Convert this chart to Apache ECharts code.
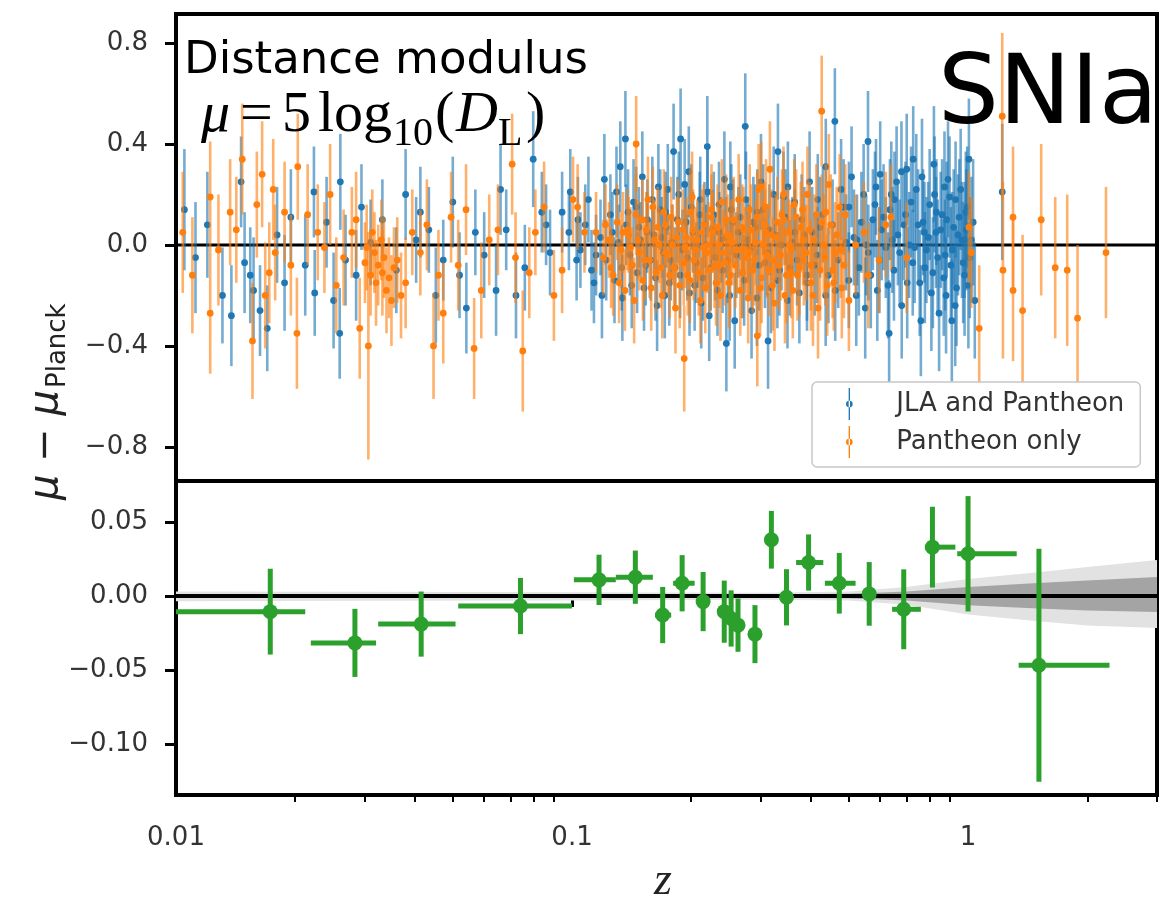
<!DOCTYPE html>
<html><head><meta charset="utf-8">
<script src="https://cdn.jsdelivr.net/npm/echarts@6/dist/echarts.min.js"></script>
<style>html,body{margin:0;padding:0;background:#fff}#c{width:1161px;height:902px}</style>
</head><body><div id="c"></div>
<script>
// ---------- axes ----------
const X_MIN = 0.01, X_MAX = 3.0;
const Y_TOP_MIN = -0.935, Y_TOP_MAX = 0.915;
const Y_BOT_MIN = -0.1345, Y_BOT_MAX = 0.0777;
const xMajorTicks = [0.01, 0.1, 1];
const xMinorTicks = [0.02,0.03,0.04,0.05,0.06,0.07,0.08,0.09,0.2,0.3,0.4,0.5,0.6,0.7,0.8,0.9,2,3];
const yTopTicks = [-0.8, -0.4, 0, 0.4, 0.8];
const yBotTicks = [-0.10, -0.05, 0, 0.05];

// ---------- top panel: [z, mu - muPlanck, error] ----------
const jlaPantheon = [
[0.0105,0.14,0.24],[0.0131,-0.20,0.19],[0.0146,0.25,0.18],[0.0149,-0.07,0.20],[0.0154,-0.12,0.19],[0.0157,-0.18,0.21],[0.0163,-0.26,0.18],[0.0170,-0.33,0.17],[0.0195,0.11,0.19],[0.0212,-0.08,0.20],[0.0223,0.21,0.18],[0.0224,-0.19,0.17],[0.0259,-0.35,0.18],[0.0260,0.25,0.19],[0.0268,-0.06,0.18],[0.0294,0.15,0.17],[0.0332,0.10,0.16],[0.0404,0.02,0.17],[0.0414,0.13,0.18],[0.0453,-0.20,0.19],[0.0473,-0.06,0.16],[0.0541,-0.25,0.18],[0.0570,0.05,0.17],[0.0643,-0.18,0.18],[0.0682,0.06,0.16],[0.0722,-0.20,0.17],[0.0798,0.34,0.19],[0.0839,0.13,0.16],[0.0880,-0.03,0.17],[0.0944,0.13,0.16],[0.0982,0.05,0.15],[0.0990,0.21,0.17],[0.1027,-0.06,0.16],[0.1136,-0.15,0.16],
[0.0112,-0.05,0.22],[0.0120,0.08,0.21],[0.0138,-0.28,0.20],[0.0180,0.04,0.19],[0.0188,-0.15,0.19],[0.0240,0.09,0.18],[0.0250,-0.22,0.19],[0.0285,-0.12,0.18],[0.0310,0.01,0.17],[0.0360,-0.10,0.17],[0.0380,0.20,0.18],[0.0435,0.06,0.17],[0.0500,0.17,0.18],[0.0520,-0.12,0.17],[0.0600,-0.04,0.17],[0.0660,0.22,0.18],[0.0760,-0.09,0.17],[0.0860,0.08,0.16],
[0.1207,0.26,0.18],[0.1324,0.31,0.18],[0.1364,0.42,0.19],[0.1452,0.15,0.16],[0.1548,0.05,0.16],[0.1652,0.23,0.17],[0.1722,0.13,0.16],[0.1805,0.37,0.19],[0.1880,0.42,0.20],[0.1972,0.29,0.18],[0.2108,0.18,0.17],[0.2196,0.39,0.20],[0.2353,0.05,0.16],[0.2453,-0.39,0.19],[0.2510,0.23,0.18],[0.2738,0.47,0.21],[0.2937,0.13,0.17],[0.3126,-0.38,0.19],[0.3311,0.37,0.19],[0.3508,0.23,0.18],[0.3653,0.05,0.17],[0.3919,-0.12,0.18],[0.4174,0.18,0.18],[0.4373,0.31,0.19],[0.4610,0.49,0.21],
[0.105,-0.02,0.15],[0.108,0.08,0.16],[0.112,-0.10,0.16],[0.118,0.03,0.15],[0.122,-0.06,0.16],[0.125,0.12,0.16],[0.128,-0.14,0.17],[0.131,0.01,0.15],[0.134,-0.21,0.17],[0.137,0.08,0.16],[0.140,-0.04,0.16],[0.143,0.17,0.17],[0.146,-0.11,0.16],[0.149,0.02,0.15],[0.152,-0.17,0.17],[0.155,0.10,0.16],[0.158,-0.06,0.16],[0.161,0.04,0.15],[0.164,-0.24,0.18],[0.167,0.14,0.16],[0.170,-0.03,0.16],[0.173,0.07,0.16],[0.176,-0.15,0.17],[0.179,0.01,0.15],[0.182,-0.09,0.16],[0.186,0.20,0.17],[0.190,-0.02,0.16],[0.194,0.09,0.16],[0.198,-0.19,0.17],[0.202,0.05,0.16],[0.206,-0.07,0.16],[0.210,0.12,0.17],[0.214,-0.13,0.17],[0.218,0.00,0.16],[0.222,-0.28,0.18],[0.226,0.06,0.16],[0.230,-0.05,0.17],[0.235,0.16,0.17],[0.240,-0.10,0.17],[0.245,0.03,0.16],[0.250,-0.20,0.18],[0.255,0.09,0.17],[0.260,-0.04,0.17],[0.266,0.11,0.17],[0.272,-0.14,0.18],[0.278,0.02,0.17],[0.284,-0.26,0.19],[0.290,0.07,0.17],[0.297,-0.08,0.18],[0.304,0.14,0.18],[0.311,-0.03,0.17],[0.318,-0.17,0.18],[0.326,0.04,0.17],[0.334,-0.10,0.18],[0.342,0.19,0.18],[0.350,-0.22,0.19],[0.360,0.01,0.18],[0.370,-0.06,0.18],[0.380,0.10,0.18],[0.392,-0.15,0.19],[0.404,0.05,0.18],[0.416,-0.04,0.19],[0.430,0.12,0.19],[0.444,-0.12,0.19],
[0.1035,0.10,0.17],[0.1100,0.18,0.17],[0.1150,-0.04,0.16],[0.1190,-0.20,0.17],[0.1265,0.05,0.16],[0.1295,0.21,0.18],[0.1335,-0.09,0.17],[0.1385,0.13,0.17],[0.1415,-0.16,0.17],[0.1475,0.07,0.16],[0.1505,0.27,0.18],[0.1535,-0.08,0.16],[0.1595,0.18,0.17],[0.1625,-0.13,0.17],[0.1685,0.03,0.16],[0.1715,-0.20,0.17],[0.1745,0.22,0.18],[0.1775,-0.06,0.16],[0.1845,0.10,0.17],[0.1875,-0.12,0.17],[0.1925,0.24,0.18],[0.1955,-0.05,0.17],[0.2000,0.15,0.17],[0.2040,-0.16,0.18],[0.2080,0.00,0.17],[0.2120,-0.23,0.18],[0.2160,0.08,0.17],[0.2200,0.21,0.18],[0.2240,-0.09,0.17],[0.2280,0.12,0.17],[0.2330,-0.18,0.18],[0.2380,0.02,0.17],[0.2425,0.26,0.19],[0.2475,-0.06,0.17],[0.2525,0.14,0.18],[0.2575,-0.30,0.19],[0.2630,0.05,0.18],[0.2690,-0.11,0.18],[0.2750,0.18,0.19],[0.2810,-0.02,0.18],[0.2870,0.09,0.18],[0.2930,-0.21,0.19],[0.3000,0.25,0.19],[0.3070,-0.07,0.18],[0.3150,0.06,0.18],[0.3230,0.20,0.19],[0.3300,-0.14,0.19],[0.3380,0.00,0.18],[0.3460,0.11,0.19],[0.3550,-0.09,0.19],[0.3650,0.17,0.19],[0.3750,-0.19,0.20],[0.3860,0.04,0.19],[0.3980,0.25,0.20],[0.4100,-0.08,0.20],[0.4230,0.07,0.20],[0.4370,-0.20,0.20],
[0.455,0.08,0.18],[0.470,-0.06,0.19],[0.485,0.15,0.19],[0.500,-0.14,0.19],[0.5003,0.15,0.18],[0.515,0.03,0.19],[0.5242,0.02,0.18],[0.530,-0.09,0.19],[0.545,0.20,0.20],[0.550,-0.25,0.20],[0.5590,0.41,0.20],[0.560,-0.03,0.19],[0.575,0.10,0.20],[0.5856,0.23,0.19],[0.590,-0.18,0.20],[0.600,0.28,0.21],[0.605,0.06,0.20],[0.620,-0.01,0.20],[0.6320,-0.35,0.21],[0.635,0.14,0.20],[0.640,0.20,0.21],[0.650,-0.10,0.20],[0.6520,0.18,0.19],[0.665,0.04,0.20],[0.6790,0.29,0.20],[0.680,-0.24,0.21],[0.695,0.12,0.21],[0.700,0.30,0.22],[0.710,0.00,0.21],[0.725,-0.07,0.21],[0.7270,0.34,0.21],[0.740,0.22,0.22],[0.755,-0.15,0.21],[0.760,-0.30,0.22],[0.770,0.09,0.21],[0.7760,0.05,0.20],[0.785,-0.02,0.21],[0.800,0.16,0.22],[0.815,-0.11,0.22],[0.820,0.32,0.23],[0.830,0.05,0.22],[0.8320,0.13,0.21],[0.845,-0.27,0.23],[0.860,0.12,0.22],[0.8720,0.23,0.22],[0.875,-0.04,0.22],[0.880,-0.20,0.23],[0.890,0.26,0.23],[0.905,-0.08,0.23],[0.910,-0.30,0.24],[0.920,0.07,0.23],[0.9300,0.18,0.23],[0.935,-0.17,0.23],[0.950,0.11,0.23],[0.965,0.02,0.23],[0.9800,0.02,0.23],[0.980,-0.12,0.24],[0.990,0.06,0.24],[0.995,0.15,0.24],[1.0050,0.34,0.24],[1.010,-0.05,0.24],[1.030,0.09,0.25],[1.0400,-0.22,0.23],[1.2200,0.21,0.27],
[0.462,-0.18,0.20],[0.478,0.22,0.20],[0.492,0.01,0.19],[0.508,0.27,0.20],[0.522,-0.20,0.20],[0.538,0.09,0.20],[0.553,0.00,0.20],[0.568,-0.12,0.21],[0.582,0.16,0.21],[0.597,-0.06,0.21],[0.612,0.11,0.21],[0.628,-0.16,0.21],[0.644,0.02,0.21],[0.660,0.25,0.22],[0.672,-0.03,0.21],[0.688,0.08,0.22],[0.702,-0.15,0.22],[0.718,0.17,0.22],[0.733,-0.01,0.22],[0.748,0.08,0.22],[0.765,0.27,0.23],[0.778,-0.09,0.22],[0.793,0.03,0.22],[0.808,-0.19,0.23],[0.823,0.20,0.23],[0.838,-0.05,0.23],[0.853,0.06,0.23],[0.868,-0.13,0.23],[0.883,0.10,0.23],[0.898,0.19,0.24],[0.913,-0.02,0.23],[0.928,-0.24,0.24],[0.943,0.04,0.24],[0.958,0.22,0.24],[0.972,-0.07,0.24],[0.987,0.13,0.24],[1.002,-0.16,0.25],[1.020,0.02,0.25]
];

const pantheonOnly = [
[0.0104,0.05,0.24],[0.0122,0.19,0.22],[0.0122,-0.27,0.24],[0.0137,0.13,0.21],[0.0147,0.34,0.22],[0.0156,-0.38,0.23],[0.0165,0.28,0.21],[0.0172,-0.11,0.20],[0.0176,0.22,0.20],[0.0178,-0.03,0.19],[0.0188,0.13,0.20],[0.0202,-0.35,0.22],[0.0203,0.31,0.21],[0.0228,0.05,0.19],[0.0237,-0.01,0.18],[0.0254,-0.16,0.19],[0.0278,0.05,0.18],[0.0291,-0.33,0.20],[0.0300,-0.07,0.16],[0.0303,-0.01,0.17],[0.0306,-0.40,0.45],[0.0310,-0.12,0.16],[0.0313,0.05,0.17],[0.0317,-0.03,0.16],[0.0320,-0.15,0.17],[0.0324,-0.08,0.16],[0.0330,0.02,0.16],[0.0332,-0.11,0.17],[0.0335,-0.05,0.16],[0.0340,-0.18,0.17],[0.0345,-0.13,0.16],[0.0350,-0.22,0.18],[0.0355,-0.09,0.16],[0.0362,-0.06,0.17],[0.0370,-0.20,0.17],[0.0380,-0.15,0.18],[0.0395,0.05,0.17],[0.0414,-0.03,0.17],[0.0447,-0.40,0.21],[0.0473,-0.27,0.20],[0.0495,0.11,0.18],[0.0516,-0.08,0.18],[0.0566,-0.41,0.20],[0.0618,0.02,0.18],[0.0706,0.32,0.20],[0.0751,-0.42,0.24],[0.0780,-0.11,0.18],[0.0808,0.05,0.17],[0.0944,-0.10,0.17],[0.1006,0.18,0.17],[0.1033,0.15,0.17],[0.1075,0.05,0.16],
[0.0110,-0.12,0.23],[0.0128,-0.02,0.22],[0.0142,0.06,0.21],[0.0160,0.16,0.21],[0.0168,-0.20,0.21],[0.0195,-0.08,0.20],[0.0215,0.12,0.20],[0.0245,0.20,0.20],[0.0265,-0.05,0.19],[0.0285,0.10,0.19],[0.0430,0.08,0.18],[0.0460,-0.12,0.18],[0.0540,0.14,0.18],[0.0590,-0.18,0.19],[0.0650,0.06,0.18],[0.0720,-0.05,0.18],[0.0850,0.15,0.18],[0.0900,-0.20,0.18],
[0.1150,0.05,0.16],[0.1380,0.06,0.16],[0.1452,0.40,0.19],[0.1506,0.10,0.16],[0.1615,0.02,0.16],[0.1722,-0.03,0.16],[0.1920,-0.45,0.21],[0.2021,0.06,0.16],[0.2145,-0.01,0.16],[0.2248,0.11,0.17],[0.2353,-0.08,0.17],[0.2510,0.02,0.16],[0.2690,0.07,0.17],[0.2806,-0.03,0.17],[0.2937,-0.36,0.20],[0.3005,0.23,0.18],[0.3075,0.05,0.17],[0.3210,-0.06,0.17],[0.3426,0.10,0.18],[0.3577,-0.11,0.18],[0.3830,0.02,0.18],[0.4009,-0.08,0.18],[0.4270,0.53,0.22],[0.4373,0.13,0.19],[0.4580,-0.15,0.19],[0.4770,-0.02,0.19],[0.5003,-0.22,0.20],[0.5460,0.05,0.20],[0.5960,-0.06,0.21],[0.6390,0.11,0.21],
[0.120,-0.05,0.15],[0.124,0.02,0.15],[0.127,-0.12,0.16],[0.130,0.09,0.15],[0.133,-0.02,0.15],[0.136,-0.18,0.16],[0.139,0.04,0.15],[0.142,-0.08,0.15],[0.145,0.12,0.16],[0.148,-0.03,0.15],[0.151,-0.14,0.16],[0.154,0.06,0.15],[0.157,-0.06,0.15],[0.160,0.15,0.16],[0.163,-0.11,0.16],[0.166,0.00,0.15],[0.169,-0.20,0.17],[0.172,0.08,0.16],[0.175,-0.04,0.16],[0.178,0.11,0.16],[0.181,-0.09,0.16],[0.184,0.03,0.16],[0.187,-0.16,0.17],[0.190,0.06,0.16],[0.193,-0.01,0.16],[0.196,-0.12,0.16],[0.199,0.13,0.17],[0.203,-0.06,0.16],[0.207,0.02,0.16],[0.211,-0.22,0.17],[0.215,0.08,0.16],[0.219,-0.03,0.16],[0.223,-0.10,0.17],[0.227,0.05,0.16],[0.231,-0.15,0.17],[0.235,0.00,0.16],[0.239,0.17,0.17],[0.243,-0.07,0.17],[0.247,0.04,0.16],[0.251,-0.12,0.17],[0.256,0.10,0.17],[0.261,-0.02,0.17],[0.266,-0.18,0.18],[0.271,0.06,0.17],[0.276,-0.05,0.17],[0.281,0.14,0.18],[0.286,-0.10,0.17],[0.291,0.01,0.17],[0.296,0.22,0.18],[0.301,-0.13,0.18],[0.306,0.08,0.17],[0.311,-0.04,0.17],[0.316,0.30,0.19],[0.321,-0.16,0.18],[0.327,0.03,0.17],[0.333,-0.08,0.18],[0.339,0.12,0.18],[0.345,-0.20,0.19],[0.351,0.05,0.18],[0.357,-0.02,0.18],[0.364,0.16,0.18],[0.371,-0.12,0.18],[0.378,0.07,0.18],[0.385,-0.06,0.18],[0.393,0.20,0.19],[0.401,-0.15,0.19],[0.409,0.02,0.18],[0.418,-0.25,0.20],[0.427,0.09,0.19],[0.436,-0.05,0.19],[0.445,0.24,0.20],[0.455,-0.10,0.19],[0.466,0.04,0.19],[0.480,-0.17,0.20],[0.490,0.12,0.20],[0.520,0.00,0.20],[0.560,-0.12,0.21],[0.620,0.08,0.21],[0.700,-0.05,0.22],
[0.1215,0.08,0.16],[0.1255,-0.09,0.16],[0.1315,-0.15,0.16],[0.1345,0.05,0.16],[0.1405,-0.01,0.16],[0.1435,-0.22,0.17],[0.1465,0.02,0.16],[0.1525,-0.06,0.16],[0.1555,0.18,0.17],[0.1585,-0.17,0.17],[0.1645,0.07,0.16],[0.1675,-0.09,0.16],[0.1705,0.13,0.17],[0.1765,-0.12,0.17],[0.1795,0.00,0.16],[0.1825,-0.25,0.18],[0.1855,0.09,0.17],[0.1915,-0.07,0.17],[0.1945,0.03,0.16],[0.1985,-0.14,0.17],[0.2010,0.19,0.18],[0.2050,-0.02,0.17],[0.2090,-0.11,0.17],[0.2130,0.05,0.17],[0.2170,-0.17,0.18],[0.2210,0.00,0.17],[0.2250,0.14,0.18],[0.2290,-0.08,0.17],[0.2330,0.07,0.17],[0.2370,-0.20,0.18],[0.2410,-0.03,0.17],[0.2450,0.10,0.18],[0.2490,-0.15,0.18],[0.2540,0.01,0.17],[0.2585,-0.08,0.17],[0.2635,0.18,0.18],[0.2685,-0.11,0.18],[0.2735,-0.02,0.17],[0.2785,-0.21,0.18],[0.2835,0.06,0.18],[0.2885,-0.06,0.18],[0.2935,0.11,0.18],[0.2985,-0.17,0.19],[0.3035,0.00,0.18],[0.3090,0.15,0.19],[0.3140,-0.10,0.18],[0.3190,0.04,0.18],[0.3245,-0.23,0.19],[0.3300,0.09,0.18],[0.3360,-0.04,0.18],[0.3420,0.20,0.19],[0.3480,-0.12,0.19],[0.3540,0.00,0.18],[0.3610,-0.18,0.19],[0.3680,0.11,0.19],[0.3750,-0.09,0.19],[0.3820,0.14,0.19],[0.3900,-0.03,0.19],[0.3980,0.06,0.19],[0.4060,-0.20,0.20],[0.4140,0.12,0.20],[0.4230,-0.10,0.20],[0.4320,0.00,0.20],[0.4410,-0.16,0.20],[0.4500,0.08,0.20],[0.4620,-0.03,0.20],[0.4740,0.15,0.21],[0.4860,-0.08,0.21],
[1.0050,0.07,0.22],[1.0190,-0.03,0.22],[1.0670,-0.33,0.25],[1.2200,0.51,0.33],[1.2250,-0.10,0.35],[1.2990,0.11,0.28],[1.2990,-0.18,0.28],[1.3730,-0.26,0.30],[1.5300,0.10,0.30],[1.6600,-0.09,0.28],[1.7800,-0.10,0.30],[1.8900,-0.29,0.29],[2.2300,-0.03,0.26]
];

// ---------- bottom panel: binned residuals ----------
const binZ   = [0.0173,0.0283,0.0416,0.0741,0.1170,0.1445,0.1694,0.1897,0.2143,0.2423,0.2522,0.2625,0.2897,0.3187,0.3480,0.3957,0.4730,0.5629,0.6880,0.8130,1.0000,1.5100];
const binMu  = [-0.0106,-0.0317,-0.0190,-0.0068,0.0109,0.0127,-0.0129,0.0086,-0.0038,-0.0106,-0.0152,-0.0197,-0.0258,0.0380,-0.0009,0.0226,0.0086,0.0014,-0.0090,0.0330,0.0285,-0.0468];
const binErr = [0.0290,0.0230,0.0220,0.0190,0.0170,0.0180,0.0190,0.0190,0.0200,0.0210,0.0190,0.0180,0.0196,0.0195,0.0190,0.0190,0.0205,0.0215,0.0270,0.0273,0.0390,0.0787];
const binZlo = [0.0095,0.0219,0.0324,0.0516,0.1011,0.1290,0.1620,0.1800,0.2060,0.2370,0.2480,0.2570,0.2820,0.3120,0.3400,0.3680,0.4350,0.5500,0.6430,0.7780,0.9390,1.3420];
const binZhi = [0.0212,0.0320,0.0508,0.1000,0.1290,0.1600,0.1780,0.2040,0.2230,0.2480,0.2570,0.2700,0.2980,0.3260,0.3560,0.4310,0.5200,0.5760,0.7600,0.9290,1.3270,2.2760];

// model uncertainty bands
const bandZ       = [0.01, 0.03, 0.1, 0.3, 0.5, 0.7, 1.0, 1.5, 2.0, 3.0];
const bandOuterHi = [0.003,0.0028,0.0025,0.0022,0.003,0.006,0.0115,0.016,0.0195,0.0243];
const bandOuterLo = [-0.0035,-0.0032,-0.003,-0.0025,-0.003,-0.006,-0.0125,-0.017,-0.020,-0.0216];
const bandInnerHi = [0.0012,0.0012,0.0012,0.0012,0.0015,0.003,0.006,0.0088,0.0105,0.0128];
const bandInnerLo = [-0.0012,-0.0012,-0.0012,-0.0012,-0.0015,-0.003,-0.0062,-0.0085,-0.0098,-0.0108];

// ---------- styles ----------
const BLUE = '#1f77b4', ORANGE = '#ff7f0e', GREEN = '#2ca02c';
const SANS = "'DejaVu Sans', sans-serif";
const SERIF = "'Liberation Serif', 'DejaVu Serif', serif";
const minus = s => s.replace('-', '\u2212');

function errRender(color) {
  return function (params, api) {
    const z = api.value(0), m = api.value(1), e = api.value(2);
    const p = api.coord([z, m]);
    const hi = api.coord([z, m + e]);
    const lo = api.coord([z, m - e]);
    return { type: 'group', children: [
      { type: 'line', shape: { x1: p[0], y1: hi[1], x2: p[0], y2: lo[1] },
        style: { stroke: color, lineWidth: 2.6, opacity: 0.62 } },
      { type: 'circle', shape: { cx: p[0], cy: p[1], r: 3.4 }, style: { fill: color } }
    ]};
  };
}

const binData = binZ.map((z, i) => [z, binMu[i], binErr[i], binZlo[i], binZhi[i]]);
const bandData = bandZ.map((z, i) => [z, bandOuterLo[i], bandOuterHi[i], bandInnerLo[i], bandInnerHi[i]]);

const LEG_ICON = 'path://M5 0h2v48h-2z M6 19a5 5 0 1 0 0.01 0z';

const chart = echarts.init(document.getElementById('c'), null, { renderer: 'canvas' });
chart.setOption({
  animation: false,
  backgroundColor: '#fff',
  grid: [
    { left: 176, top: 14, width: 981, height: 467, show: true, borderColor: '#000', borderWidth: 4, backgroundColor: 'transparent', outerBoundsMode: 'none' },
    { left: 176, top: 481, width: 981, height: 314, show: true, borderColor: '#000', borderWidth: 4, backgroundColor: 'transparent', outerBoundsMode: 'none' }
  ],
  xAxis: [
    { type: 'log', logBase: 10, gridIndex: 0, min: X_MIN, max: X_MAX, position: 'bottom',
      axisLine: { show: false }, axisTick: { show: false }, axisLabel: { show: false }, splitLine: { show: false } },
    { type: 'log', logBase: 10, gridIndex: 1, min: X_MIN, max: X_MAX, position: 'bottom',
      axisLine: { show: false }, splitLine: { show: false },
      axisTick: { show: true, inside: false, length: 11, lineStyle: { color: '#000', width: 3 }, customValues: xMajorTicks },
      axisLabel: { show: true, margin: 30, fontFamily: SANS, fontSize: 26, color: '#333', customValues: xMajorTicks,
        formatter: v => String(+v.toPrecision(3)) } },
    { type: 'log', logBase: 10, gridIndex: 1, min: X_MIN, max: X_MAX, position: 'bottom', offset: 0,
      axisLine: { show: false }, splitLine: { show: false }, axisLabel: { show: false },
      axisTick: { show: true, inside: false, length: 7, lineStyle: { color: '#000', width: 2 }, customValues: xMinorTicks } }
  ],
  yAxis: [
    { type: 'value', gridIndex: 0, min: Y_TOP_MIN, max: Y_TOP_MAX,
      axisLine: { show: false }, splitLine: { show: false },
      axisTick: { show: true, inside: false, length: 11, lineStyle: { color: '#000', width: 3 }, customValues: yTopTicks },
      axisLabel: { show: true, margin: 28, fontFamily: SANS, fontSize: 26, color: '#333', customValues: yTopTicks,
        formatter: v => minus(v.toFixed(1)) } },
    { type: 'value', gridIndex: 1, min: Y_BOT_MIN, max: Y_BOT_MAX,
      axisLine: { show: false }, splitLine: { show: false },
      axisTick: { show: true, inside: false, length: 11, lineStyle: { color: '#000', width: 3 }, customValues: yBotTicks },
      axisLabel: { show: true, margin: 28, fontFamily: SANS, fontSize: 26, color: '#333', customValues: yBotTicks,
        formatter: v => minus(v.toFixed(2)) } }
  ],
  legend: {
    orient: 'vertical', left: 812, top: 382, z: 10,
    backgroundColor: '#fff', borderColor: '#c8c8c8', borderWidth: 1.5, borderRadius: 5,
    padding: [6, 16, 9, 34], itemWidth: 8, itemHeight: 32, itemGap: 6,
    textStyle: { fontFamily: SANS, fontSize: 26, color: '#333', padding: [0, 0, 0, 38] },
    data: [ { name: 'JLA and Pantheon', icon: LEG_ICON }, { name: 'Pantheon only', icon: LEG_ICON } ]
  },
  series: [
    { name: 'zeroTop', type: 'line', xAxisIndex: 0, yAxisIndex: 0, z: 1, silent: true, symbol: 'none',
      data: [[X_MIN, 0], [X_MAX, 0]], lineStyle: { color: '#000', width: 3 } },
    { name: 'JLA and Pantheon', type: 'custom', xAxisIndex: 0, yAxisIndex: 0, z: 2, clip: true,
      itemStyle: { color: BLUE }, encode: { x: 0, y: 1 }, data: jlaPantheon, renderItem: errRender(BLUE) },
    { name: 'Pantheon only', type: 'custom', xAxisIndex: 0, yAxisIndex: 0, z: 3, clip: true,
      itemStyle: { color: ORANGE }, encode: { x: 0, y: 1 }, data: pantheonOnly, renderItem: errRender(ORANGE) },
    { name: 'band', type: 'custom', xAxisIndex: 1, yAxisIndex: 1, z: 1, clip: true, silent: true,
      encode: { x: 0, y: 1 }, data: bandData,
      renderItem: function (params, api) {
        if (params.dataIndex !== 0) return null;
        const outer = [], inner = [];
        for (let i = 0; i < bandZ.length; i++) { outer.push(api.coord([bandZ[i], bandOuterHi[i]])); inner.push(api.coord([bandZ[i], bandInnerHi[i]])); }
        for (let i = bandZ.length - 1; i >= 0; i--) { outer.push(api.coord([bandZ[i], bandOuterLo[i]])); inner.push(api.coord([bandZ[i], bandInnerLo[i]])); }
        return { type: 'group', children: [
          { type: 'polygon', shape: { points: outer }, style: { fill: '#e2e2e2' } },
          { type: 'polygon', shape: { points: inner }, style: { fill: '#a4a4a4' } }
        ]};
      } },
    { name: 'zeroBot', type: 'line', xAxisIndex: 1, yAxisIndex: 1, z: 2, silent: true, symbol: 'none',
      data: [[X_MIN, 0], [X_MAX, 0]], lineStyle: { color: '#000', width: 4 } },
    { name: 'binned', type: 'custom', xAxisIndex: 1, yAxisIndex: 1, z: 3, clip: true,
      encode: { x: 0, y: 1 }, data: binData,
      renderItem: function (params, api) {
        const z = api.value(0), m = api.value(1), e = api.value(2), zl = api.value(3), zh = api.value(4);
        const p = api.coord([z, m]);
        const l = api.coord([zl, m]), r = api.coord([zh, m]);
        const t = api.coord([z, m + e]), b = api.coord([z, m - e]);
        return { type: 'group', children: [
          { type: 'line', shape: { x1: l[0], y1: p[1], x2: r[0], y2: p[1] }, style: { stroke: GREEN, lineWidth: 5 } },
          { type: 'line', shape: { x1: p[0], y1: t[1], x2: p[0], y2: b[1] }, style: { stroke: GREEN, lineWidth: 5 } },
          { type: 'circle', shape: { cx: p[0], cy: p[1], r: 7.5 }, style: { fill: GREEN } }
        ]};
      } }
  ],
  graphic: [
    { type: 'text', x: 184, y: 61, z: 20, style: { text: 'Distance modulus', fontFamily: SANS, fontSize: 45, fill: '#000', align: 'left', verticalAlign: 'middle' } },
    { type: 'text', x: 201, y: 116, z: 20, style: { text: 'μ', fontFamily: SERIF, fontStyle: 'italic', fontSize: 58, fill: '#000', verticalAlign: 'middle' } },
    { type: 'text', x: 240, y: 116, z: 20, style: { text: '=', fontFamily: SERIF, fontSize: 58, fill: '#000', verticalAlign: 'middle' } },
    { type: 'text', x: 282, y: 116, z: 20, style: { text: '5', fontFamily: SERIF, fontSize: 58, fill: '#000', verticalAlign: 'middle' } },
    { type: 'text', x: 318, y: 116, z: 20, style: { text: 'log', fontFamily: SERIF, fontSize: 58, fill: '#000', verticalAlign: 'middle' } },
    { type: 'text', x: 393, y: 134, z: 20, style: { text: '10', fontFamily: SERIF, fontSize: 40, fill: '#000', verticalAlign: 'middle' } },
    { type: 'text', x: 435, y: 116, z: 20, style: { text: '(', fontFamily: SERIF, fontSize: 58, fill: '#000', verticalAlign: 'middle' } },
    { type: 'text', x: 456, y: 116, z: 20, style: { text: 'D', fontFamily: SERIF, fontStyle: 'italic', fontSize: 58, fill: '#000', verticalAlign: 'middle' } },
    { type: 'text', x: 498, y: 134, z: 20, style: { text: 'L', fontFamily: SERIF, fontSize: 40, fill: '#000', verticalAlign: 'middle' } },
    { type: 'text', x: 526, y: 116, z: 20, style: { text: ')', fontFamily: SERIF, fontSize: 58, fill: '#000', verticalAlign: 'middle' } },
    { type: 'text', x: 938, y: 98, z: 20, style: { text: 'SNIa', fontFamily: SANS, fontSize: 96, fill: '#000', verticalAlign: 'middle' } },
    { type: 'text', x: 47, y: 500, rotation: Math.PI / 2, z: 20, style: { text: 'μ − μ', fontFamily: SANS, fontStyle: 'italic', fontSize: 40, fill: '#222', align: 'left', verticalAlign: 'middle' } },
    { type: 'text', x: 58, y: 388, rotation: Math.PI / 2, z: 20, style: { text: 'Planck', fontFamily: SANS, fontSize: 26, fill: '#222', align: 'left', verticalAlign: 'middle' } },
    { type: 'text', x: 663, y: 882, z: 20, style: { text: 'z', fontFamily: SERIF, fontStyle: 'italic', fontSize: 46, fill: '#222', align: 'center', verticalAlign: 'middle' } }
  ]
});
</script></body></html>
